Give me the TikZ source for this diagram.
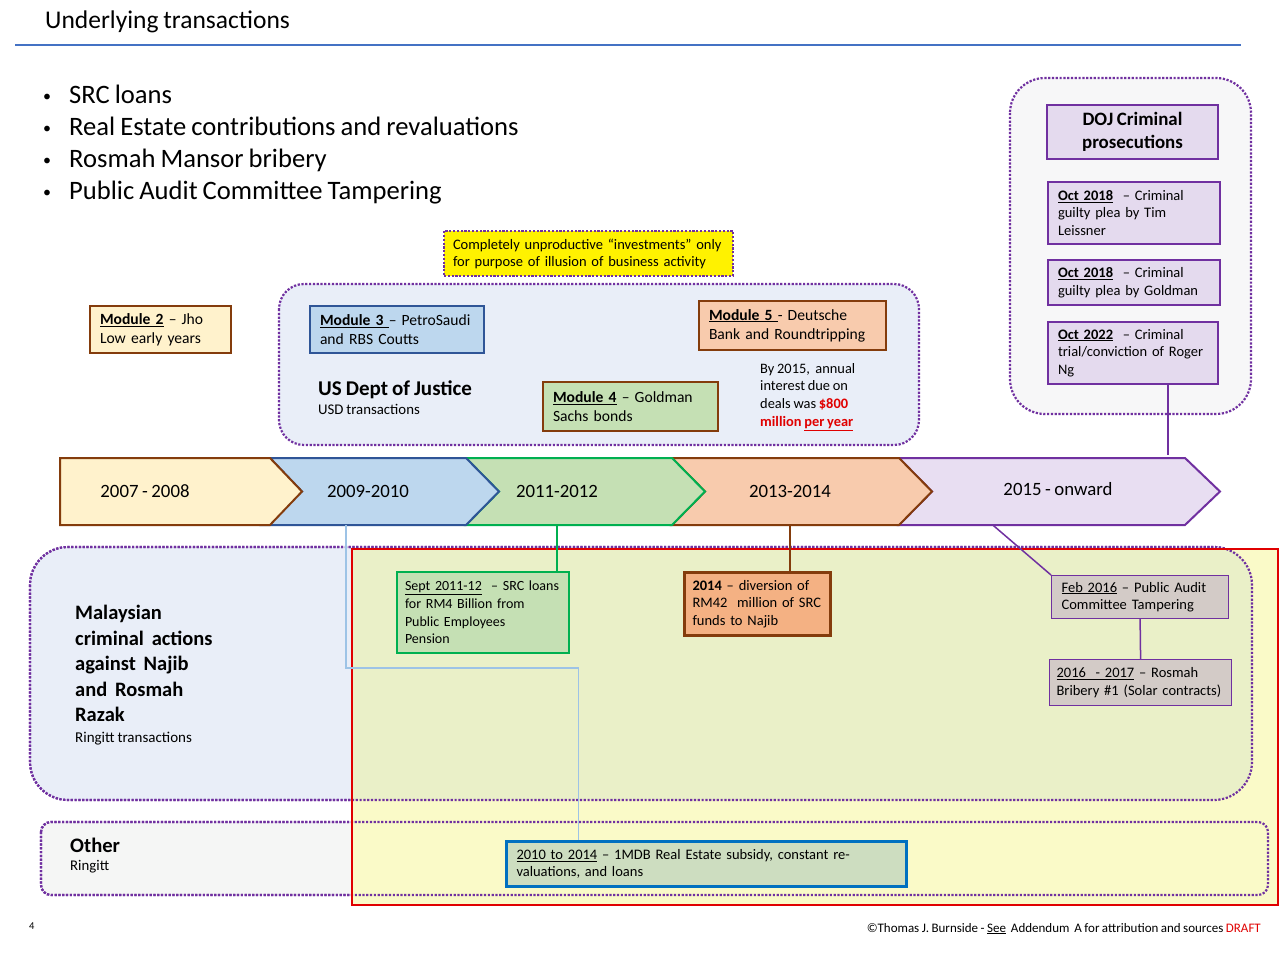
\documentclass[tikz,border=0pt]{standalone}
\usepackage{fontspec}
\setmainfont{Carlito}
\definecolor{ttlblue}{HTML}{4472C4}
\definecolor{purp}{HTML}{7030A0}
\definecolor{brn}{HTML}{843C0C}
\definecolor{dblue}{HTML}{2F5597}
\definecolor{lblue}{HTML}{BDD7EE}
\definecolor{lyel}{HTML}{FFF2CC}
\definecolor{lgreen}{HTML}{C5E0B4}
\definecolor{mgreen}{HTML}{00B050}
\definecolor{lorange}{HTML}{F8CBAD}
\definecolor{dorange}{HTML}{F4B183}
\definecolor{lpurp}{HTML}{E4DAEE}
\definecolor{chpurp}{HTML}{E8DEF2}
\definecolor{dojbg}{HTML}{F7F7F8}
\definecolor{usbg}{HTML}{E9EEF8}
\definecolor{otherbg}{HTML}{F5F6F5}
\definecolor{redyel}{HTML}{FAFAC8}
\definecolor{redgreen}{HTML}{EAF0C8}
\definecolor{grayb}{HTML}{D3CBC7}
\definecolor{conblue}{HTML}{9DC3E6}
\definecolor{rgrn}{HTML}{CDDDC0}
\definecolor{bbox}{HTML}{0070C0}
\definecolor{dred}{HTML}{E00000}
\newcommand\fs[2]{\fontsize{#1}{#2}\selectfont\spaceskip=0.19em plus 0.05em minus 0.03em\relax}
\newcommand\bul{\makebox[29pt][l]{\hspace{3pt}\raisebox{2pt}{\fs{16}{16}•}}}
\tikzset{
  dotb/.style={draw=purp, line width=2.2, dash pattern=on 2.2pt off 1.6pt},
  bx/.style={anchor=north west, align=left, inner xsep=10, inner ysep=2, font=\fs{14.5}{17.7}},
  modb/.style={anchor=north west, align=left, inner xsep=10, inner ysep=2, font=\fs{15.6}{19}},
  chev/.style={line width=2, line join=miter},
  chtxt/.style={minimum height=67, inner sep=0, font=\fs{18.8}{22}},
  plain/.style={inner sep=0, anchor=base west},
}
\begin{document}
\begin{tikzpicture}[x=1pt,y=-1pt]
\useasboundingbox (0,0) rectangle (1280,960);
\fill[white] (0,0) rectangle (1280,960);

% title
\node[plain, font=\fs{25.5}{28}] (title) at (45,29) {Underlying transactions};
\draw[ttlblue, line width=2.8] (15,45) -- (1241,45);

% bullets
\node[plain, font=\fs{26.6}{30}] (b1) at (40,104) {\bul SRC loans};
\node[plain, font=\fs{26.6}{30}] (b2) at (40,136) {\bul Real Estate contributions and revaluations};
\node[plain, font=\fs{26.6}{30}] (b3) at (40,168) {\bul Rosmah Mansor bribery};
\node[plain, font=\fs{26.6}{30}] (b4) at (40,200) {\bul Public Audit Committee Tampering};

% DOJ panel
\path[fill=dojbg, dotb, rounded corners=35] (1010,78) rectangle (1251,414);
\node[draw=purp, fill=lpurp, line width=2, anchor=north west, minimum width=171, minimum height=54, inner sep=0, align=center, font=\bfseries\fs{18.9}{23}] (dojh) at (1046,104) {DOJ Criminal\\prosecutions};
\node[bx, draw=purp, fill=lpurp, line width=2, text width=152, minimum height=62] (leis) at (1047,181) {\textbf{\underline{Oct 2018}} \ – Criminal\\guilty plea by Tim\\Leissner};
\node[bx, draw=purp, fill=lpurp, line width=2, text width=152, minimum height=45] (gold) at (1047,259) {\textbf{\underline{Oct 2018}} \ – Criminal\\guilty plea by Goldman};
\node[bx, draw=purp, fill=lpurp, line width=2, text width=150, minimum height=62] (ng) at (1047,321) {\textbf{\underline{Oct 2022}} \ – Criminal\\trial/conviction of Roger\\Ng};

% US DoJ panel
\path[fill=usbg, dotb, rounded corners=25] (279,284) rectangle (919,445);
\node[bx, fill=yellow, dotb, line width=2, text width=271, inner xsep=9, minimum height=45, font=\fs{14.5}{17}] (yel) at (443,230) {Completely unproductive “investments” only\\for purpose of illusion of business activity};
\node[modb, draw=brn, fill=lyel, line width=2, text width=121, minimum height=47] (m2) at (89,305) {\textbf{\underline{Module 2}} – Jho\\Low early years};
\node[modb, draw=dblue, fill=lblue, line width=2, text width=154, minimum height=47] (m3) at (309,305) {\textbf{\underline{Module 3 }}– PetroSaudi\\and RBS Coutts};
\node[modb, draw=brn, fill=lorange, line width=2, text width=167, minimum height=49] (m5) at (698,300) {\textbf{\underline{Module 5 }}- Deutsche\\Bank and Roundtripping};
\node[modb, draw=brn, fill=lgreen, line width=2, text width=155, minimum height=49] (m4) at (542,381) {\textbf{\underline{Module 4}} – Goldman\\Sachs bonds};
\node[plain, font=\bfseries\fs{21}{24}] (usdoj) at (318,395) {US Dept of Justice};
\node[plain, font=\fs{14.8}{17}] (usd) at (318,414) {USD transactions};
\node[inner sep=0, anchor=north west, align=left, font=\fs{14.4}{17.7}] (by15) at (760,363) {By 2015,\ \ annual\\interest due on\\deals was \textcolor{dred}{\textbf{\$800}}\\\textcolor{dred}{\textbf{million \underline{per year}}}};

% lower panels
\path[fill=usbg, dotb, rounded corners=38] (30,547) rectangle (1252,800);
\path[fill=otherbg, dotb, rounded corners=10] (41,822) rectangle (1268,895);
\fill[redyel] (352,549) rectangle (1278,905);
\begin{scope}
\clip (352,549) rectangle (1278,905);
\fill[redgreen, rounded corners=38] (30,547) rectangle (1252,800);
\end{scope}
\draw[dotb, rounded corners=38] (30,547) rectangle (1252,800);
\draw[dotb, rounded corners=10] (41,822) rectangle (1268,895);
\draw[dred, line width=2.8] (352,549) rectangle (1278,905);

\node[inner sep=0, anchor=north west, align=left, font=\bfseries\fs{20.5}{25.5}] (mal) at (75,605) {Malaysian\\criminal\ \ actions\\against\ \ Najib\\and\ \ Rosmah\\Razak};
\node[plain, font=\fs{15}{17}] (ring) at (75,742) {Ringitt transactions};
\node[plain, font=\bfseries\fs{20.6}{23}] (oth) at (70,852) {Other};
\node[plain, font=\fs{14.8}{17}] (othr) at (70,870) {Ringitt};

% timeline chevrons
\draw[chev, draw=purp, fill=chpurp] (899,458) -- (1185,458) -- (1220,491.5) -- (1185,525) -- (899,525) -- (932,491.5) -- cycle;
\draw[chev, draw=brn, fill=lorange] (672,458) -- (899,458) -- (932,491.5) -- (899,525) -- (672,525) -- (705,491.5) -- cycle;
\draw[chev, draw=mgreen, fill=lgreen] (466,458) -- (672,458) -- (705,491.5) -- (672,525) -- (466,525) -- (499,491.5) -- cycle;
\draw[chev, draw=dblue, fill=lblue] (270,458) -- (466,458) -- (499,491.5) -- (466,525) -- (262,525) -- (302,491.5) -- cycle;
\draw[chev, draw=brn, fill=lyel] (60,458) -- (270,458) -- (302,491.5) -- (270,525) -- (60,525) -- cycle;
\node[chtxt] (c1) at (145,491.5) {2007 - 2008};
\node[chtxt] (c2) at (368,491.5) {2009-2010};
\node[chtxt] (c3) at (557,491.5) {2011-2012};
\node[chtxt] (c4) at (790,491.5) {2013-2014};
\node[chtxt] (c5) at (1058,489) {2015 - onward};

% lower boxes
\node[bx, draw=bbox, fill=rgrn, line width=3, text width=380, minimum height=45] (r2010) at (505,840) {\underline{2010 to 2014} – 1MDB Real Estate subsidy, constant re-\\valuations, and loans};
\draw[conblue, line width=1.5] ([xshift=-22]c2.south) -- ++(0,143) -| ([xshift=-128]r2010.north);
\node[bx, draw=mgreen, fill=lgreen, line width=2, inner xsep=8, text width=156, minimum height=81, font=\fs{14}{17.7}] (sept) at (396,571) {\mbox{\underline{Sept 2011-12}\ \ – SRC loans}\\for RM4 Billion from\\Public Employees\\Pension};
\node[bx, draw=brn, fill=dorange, line width=3, inner xsep=8, text width=130, minimum height=63] (b2014) at (683,571) {\textbf{2014} – diversion of\\RM42\ \ million of SRC\\funds to Najib};
\node[bx, draw=purp, fill=grayb, line width=1.2, text width=157, minimum height=43] (feb) at (1051,575) {\underline{Feb 2016} – Public Audit\\Committee Tampering};
\node[bx, draw=purp, fill=grayb, line width=1.2, inner xsep=7, text width=168, minimum height=46] (r1617) at (1049,659) {\underline{2016\ \ - 2017} – Rosmah\\Bribery \#1 (Solar contracts)};

% connectors
\draw[mgreen, line width=1.5] (c3.south) -- (c3.south |- sept.north);
\draw[brn, line width=1.5] (c4.south) -- (c4.south |- b2014.north);
\draw[purp, line width=1.5] ([xshift=-65,yshift=-2.5]c5.south) -- (feb.north west);
\draw[purp, line width=1.5] (feb.south) -- (r1617.north);
\draw[purp, line width=1.5] ([xshift=35]ng.south) -- ([xshift=35]ng.south |- c5.north);

% footer
\node[plain, font=\fs{10.5}{12}] (pg) at (29,929) {4};
\node[inner sep=0, anchor=base east, font=\fs{13}{15}] (copy) at (1261,932) {©Thomas J. Burnside - \underline{See}\ \ Addendum\ \ A for attribution and sources \textcolor{dred}{DRAFT}};
\end{tikzpicture}
\end{document}
